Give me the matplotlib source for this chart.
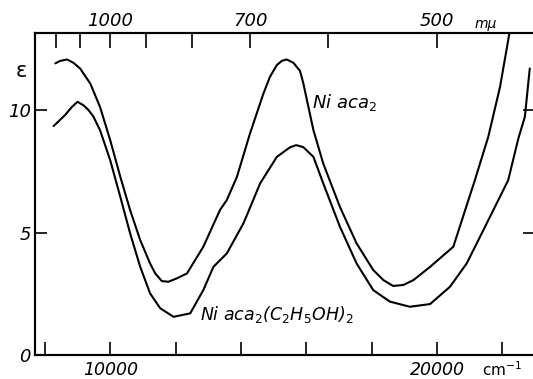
import numpy as np
import matplotlib
matplotlib.use("Agg")
import matplotlib.pyplot as plt
from matplotlib.transforms import blended_transform_factory

plt.rcParams['font.family'] = ['DejaVu Sans']
plt.rcParams['mathtext.default'] = 'it'

# Ni aca2 (upper curve): wavenumber (cm^-1) vs epsilon
upper_nu = [8320, 8470, 8680, 8880, 9080, 9390, 9690, 10000, 10310, 10610,
            10920, 11220, 11380, 11580, 11780, 12040, 12350, 12850, 13360, 13570,
            13880, 14280, 14690, 14890, 15100, 15250, 15400, 15610, 15810, 15910,
            16220, 16520, 17030, 17540, 18050, 18360, 18660, 18970, 19280, 19790,
            20500, 21160, 21570, 21930, 22180, 22300]
upper_eps = [11.91, 12.01, 12.07, 11.93, 11.70, 11.09, 10.13, 8.78, 7.28, 5.92,
             4.69, 3.74, 3.33, 3.02, 2.99, 3.13, 3.33, 4.42, 5.92, 6.33,
             7.28, 9.05, 10.68, 11.36, 11.84, 12.01, 12.07, 11.93, 11.60, 11.10,
             9.18, 7.82, 6.05, 4.56, 3.47, 3.06, 2.82, 2.86, 3.06, 3.60,
             4.42, 7.14, 8.91, 10.95, 12.86, 13.8]

# Ni aca2(C2H5OH)2 (lower curve)
lower_nu = [8270, 8620, 8830, 9000, 9180, 9340, 9490, 9690, 10000, 10310,
            10610, 10920, 11220, 11530, 11940, 12450, 12850, 13160, 13570, 14080,
            14590, 15100, 15500, 15690, 15910, 16220, 16520, 17030, 17540, 18050,
            18560, 19170, 19790, 20400, 20910, 21420, 22180, 22490, 22690, 22840]
lower_eps = [9.35, 9.80, 10.13, 10.34, 10.20, 10.00, 9.73, 9.18, 7.96, 6.46,
             4.97, 3.60, 2.52, 1.91, 1.56, 1.70, 2.65, 3.60, 4.15, 5.38,
             7.01, 8.09, 8.48, 8.57, 8.49, 8.09, 7.01, 5.24, 3.74, 2.65,
             2.18, 1.97, 2.08, 2.79, 3.74, 5.10, 7.14, 8.84, 9.73, 11.70]

bottom_ticks = [8000, 10000, 12000, 14000, 16000, 18000, 20000, 22000]
bottom_labels = ['', '10000', '', '', '', '', '20000', 'cm$\\mathrm{^{-1}}$']
top_wavelengths = [1200, 1100, 1000, 900, 800, 700, 600, 500]
top_labels = ['', '', '1000', '', '', '700', '', '500']
y_ticks = [0, 5, 10]

fig = plt.figure(figsize=(5.33, 3.79), dpi=100)
ax = fig.add_axes([35/533, 24/379, 500/533, 322/379])

ax.plot(upper_nu, upper_eps, color='black', lw=1.5,
        solid_joinstyle='round', solid_capstyle='round')
ax.plot(lower_nu, lower_eps, color='black', lw=1.5,
        solid_joinstyle='round', solid_capstyle='round')

ax.set_xlim(7700, 23000)
ax.set_ylim(0, 13.15)

for s in ax.spines.values():
    s.set_linewidth(1.5)

ax.set_xticks(bottom_ticks)
ax.set_xticklabels(bottom_labels, fontsize=12.5, style='italic')
last = ax.get_xticklabels()[-1]
last.set_fontstyle('normal')
last.set_fontsize(11)
ax.tick_params(axis='x', direction='in', length=9.5, width=1.2, pad=4,
               top=False, bottom=True)
ax.set_yticks(y_ticks)
ax.set_yticklabels([str(v) for v in y_ticks], fontsize=13, style='italic')
ax.tick_params(axis='y', direction='in', length=8.5, width=1.2, pad=3,
               left=True, right=True)

ax2 = ax.twiny()
ax2.set_xlim(ax.get_xlim())
ax2.set_xticks([1e7 / w for w in top_wavelengths])
ax2.set_xticklabels(top_labels, fontsize=13, style='italic')
ax2.tick_params(axis='x', direction='in', length=11, width=1.2, pad=2)
for s in ax2.spines.values():
    s.set_linewidth(1.5)

ax.text(21500, 13.25, 'mµ', fontsize=10, style='italic', ha='center', va='bottom')

trans = blended_transform_factory(ax.transAxes, ax.transData)
ax.text(-0.028, 11.6, 'ε', transform=trans, fontsize=15, ha='center', va='center')

ax.text(16180, 10.08, 'Ni aca$_2$', fontsize=13, style='italic', ha='left', va='baseline')
ax.text(12750, 1.43, 'Ni aca$_2$(C$_2$H$_5$OH)$_2$', fontsize=12.5, style='italic',
        ha='left', va='baseline')

fig.savefig('out.png', dpi=100)
